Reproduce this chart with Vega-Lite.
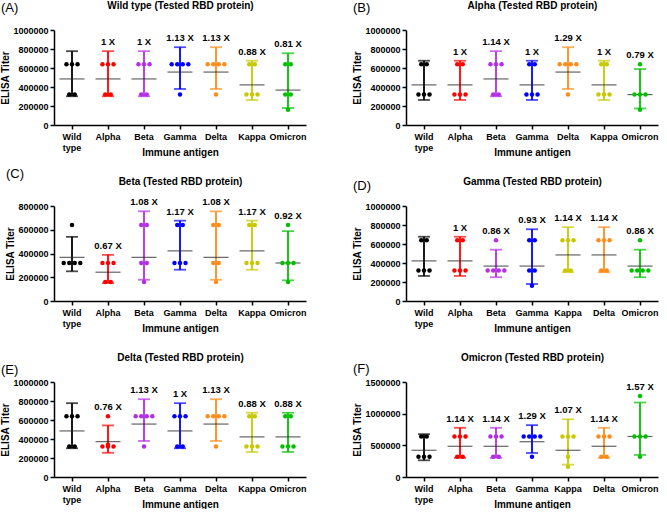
{
"$schema":"https://vega.github.io/schema/vega-lite/v6.json",
"padding":{"left":0,"top":0,"right":0,"bottom":0},
"background":"white",
"datasets":{
"pts":[
{"p":"A","g":"Wild type","v":[640000,640000,640000,320000,320000]},
{"p":"A","g":"Alpha","v":[640000,640000,640000,320000,320000]},
{"p":"A","g":"Beta","v":[640000,640000,640000,320000,320000]},
{"p":"A","g":"Gamma","v":[640000,640000,640000,640000,320000]},
{"p":"A","g":"Delta","v":[640000,640000,640000,640000,320000]},
{"p":"A","g":"Kappa","v":[640000,640000,320000,320000,320000]},
{"p":"A","g":"Omicron","v":[640000,640000,320000,320000,160000]},
{"p":"B","g":"Wild type","v":[640000,640000,320000,320000,320000]},
{"p":"B","g":"Alpha","v":[640000,640000,320000,320000,320000]},
{"p":"B","g":"Beta","v":[640000,640000,640000,320000,320000]},
{"p":"B","g":"Gamma","v":[640000,640000,320000,320000,320000]},
{"p":"B","g":"Delta","v":[640000,640000,640000,640000,320000]},
{"p":"B","g":"Kappa","v":[640000,640000,320000,320000,320000]},
{"p":"B","g":"Omicron","v":[640000,320000,320000,320000,160000]},
{"p":"C","g":"Wild type","v":[640000,320000,320000,320000,320000]},
{"p":"C","g":"Alpha","v":[320000,320000,320000,160000,160000]},
{"p":"C","g":"Beta","v":[640000,640000,320000,320000,160000]},
{"p":"C","g":"Gamma","v":[640000,640000,320000,320000,320000]},
{"p":"C","g":"Delta","v":[640000,640000,320000,320000,160000]},
{"p":"C","g":"Kappa","v":[640000,640000,320000,320000,320000]},
{"p":"C","g":"Omicron","v":[640000,320000,320000,320000,160000]},
{"p":"D","g":"Wild type","v":[640000,640000,320000,320000,320000]},
{"p":"D","g":"Alpha","v":[640000,640000,320000,320000,320000]},
{"p":"D","g":"Beta","v":[640000,320000,320000,320000,320000]},
{"p":"D","g":"Gamma","v":[640000,640000,320000,320000,160000]},
{"p":"D","g":"Kappa","v":[640000,640000,640000,320000,320000]},
{"p":"D","g":"Delta","v":[640000,640000,640000,320000,320000]},
{"p":"D","g":"Omicron","v":[640000,320000,320000,320000,320000]},
{"p":"E","g":"Wild type","v":[640000,640000,640000,320000,320000]},
{"p":"E","g":"Alpha","v":[640000,320000,320000,320000,340000]},
{"p":"E","g":"Beta","v":[640000,640000,640000,640000,320000]},
{"p":"E","g":"Gamma","v":[640000,640000,640000,320000,320000]},
{"p":"E","g":"Delta","v":[640000,640000,640000,640000,320000]},
{"p":"E","g":"Kappa","v":[640000,640000,320000,320000,320000]},
{"p":"E","g":"Omicron","v":[640000,640000,320000,320000,320000]},
{"p":"F","g":"Wild type","v":[640000,640000,320000,320000,320000]},
{"p":"F","g":"Alpha","v":[640000,640000,640000,320000,320000]},
{"p":"F","g":"Beta","v":[640000,640000,640000,320000,320000]},
{"p":"F","g":"Gamma","v":[640000,640000,640000,640000,320000]},
{"p":"F","g":"Kappa","v":[640000,640000,640000,320000,160000]},
{"p":"F","g":"Delta","v":[640000,640000,640000,320000,320000]},
{"p":"F","g":"Omicron","v":[1280000,640000,640000,640000,320000]}
],
"sum":[
{"p":"A","g":"Wild type","gm":485000,"lo":302700,"hi":777100,"mx":640000,"lab":""},
{"p":"A","g":"Alpha","gm":485000,"lo":302700,"hi":777100,"mx":640000,"lab":"1 X"},
{"p":"A","g":"Beta","gm":485000,"lo":302700,"hi":777100,"mx":640000,"lab":"1 X"},
{"p":"A","g":"Gamma","gm":557200,"lo":379200,"hi":818800,"mx":640000,"lab":"1.13 X"},
{"p":"A","g":"Delta","gm":557200,"lo":379200,"hi":818800,"mx":640000,"lab":"1.13 X"},
{"p":"A","g":"Kappa","gm":422200,"lo":263500,"hi":676500,"mx":640000,"lab":"0.88 X"},
{"p":"A","g":"Omicron","gm":367600,"lo":178900,"hi":755300,"mx":640000,"lab":"0.81 X"},
{"p":"B","g":"Wild type","gm":422200,"lo":263500,"hi":676500,"mx":640000,"lab":""},
{"p":"B","g":"Alpha","gm":422200,"lo":263500,"hi":676500,"mx":640000,"lab":"1 X"},
{"p":"B","g":"Beta","gm":485000,"lo":302700,"hi":777100,"mx":640000,"lab":"1.14 X"},
{"p":"B","g":"Gamma","gm":422200,"lo":263500,"hi":676500,"mx":640000,"lab":"1 X"},
{"p":"B","g":"Delta","gm":557200,"lo":379200,"hi":818800,"mx":640000,"lab":"1.29 X"},
{"p":"B","g":"Kappa","gm":422200,"lo":263500,"hi":676500,"mx":640000,"lab":"1 X"},
{"p":"B","g":"Omicron","gm":320000,"lo":174100,"hi":588200,"mx":640000,"lab":"0.79 X"},
{"p":"C","g":"Wild type","gm":367600,"lo":250100,"hi":540200,"mx":640000,"lab":""},
{"p":"C","g":"Alpha","gm":242500,"lo":151400,"hi":388600,"mx":320000,"lab":"0.67 X"},
{"p":"C","g":"Beta","gm":367600,"lo":178900,"hi":755300,"mx":640000,"lab":"1.08 X"},
{"p":"C","g":"Gamma","gm":422200,"lo":263500,"hi":676500,"mx":640000,"lab":"1.17 X"},
{"p":"C","g":"Delta","gm":367600,"lo":178900,"hi":755300,"mx":640000,"lab":"1.08 X"},
{"p":"C","g":"Kappa","gm":422200,"lo":263500,"hi":676500,"mx":640000,"lab":"1.17 X"},
{"p":"C","g":"Omicron","gm":320000,"lo":174100,"hi":588200,"mx":640000,"lab":"0.92 X"},
{"p":"D","g":"Wild type","gm":422200,"lo":263500,"hi":676500,"mx":640000,"lab":""},
{"p":"D","g":"Alpha","gm":422200,"lo":263500,"hi":676500,"mx":640000,"lab":"1 X"},
{"p":"D","g":"Beta","gm":367600,"lo":250100,"hi":540200,"mx":640000,"lab":"0.86 X"},
{"p":"D","g":"Gamma","gm":367600,"lo":178900,"hi":755300,"mx":640000,"lab":"0.93 X"},
{"p":"D","g":"Kappa","gm":485000,"lo":302700,"hi":777100,"mx":640000,"lab":"1.14 X"},
{"p":"D","g":"Delta","gm":485000,"lo":302700,"hi":777100,"mx":640000,"lab":"1.14 X"},
{"p":"D","g":"Omicron","gm":367600,"lo":250100,"hi":540200,"mx":640000,"lab":"0.86 X"},
{"p":"E","g":"Wild type","gm":485000,"lo":302700,"hi":777100,"mx":640000,"lab":""},
{"p":"E","g":"Alpha","gm":372100,"lo":255000,"hi":543000,"mx":640000,"lab":"0.76 X"},
{"p":"E","g":"Beta","gm":557200,"lo":379200,"hi":818800,"mx":640000,"lab":"1.13 X"},
{"p":"E","g":"Gamma","gm":485000,"lo":302700,"hi":777100,"mx":640000,"lab":"1 X"},
{"p":"E","g":"Delta","gm":557200,"lo":379200,"hi":818800,"mx":640000,"lab":"1.13 X"},
{"p":"E","g":"Kappa","gm":422200,"lo":263500,"hi":676500,"mx":640000,"lab":"0.88 X"},
{"p":"E","g":"Omicron","gm":422200,"lo":263500,"hi":676500,"mx":640000,"lab":"0.88 X"},
{"p":"F","g":"Wild type","gm":422200,"lo":263500,"hi":676500,"mx":640000,"lab":""},
{"p":"F","g":"Alpha","gm":485000,"lo":302700,"hi":777100,"mx":640000,"lab":"1.14 X"},
{"p":"F","g":"Beta","gm":485000,"lo":302700,"hi":777100,"mx":640000,"lab":"1.14 X"},
{"p":"F","g":"Gamma","gm":557200,"lo":379200,"hi":818800,"mx":640000,"lab":"1.29 X"},
{"p":"F","g":"Kappa","gm":422200,"lo":195600,"hi":911600,"mx":640000,"lab":"1.07 X"},
{"p":"F","g":"Delta","gm":485000,"lo":302700,"hi":777100,"mx":640000,"lab":"1.14 X"},
{"p":"F","g":"Omicron","gm":640000,"lo":348200,"hi":1176300,"mx":1280000,"lab":"1.57 X"}
]
},
"columns":2,
"spacing":{"row":81,"column":100},
"bounds":"flush",
"concat":[
{"width":252,"height":95,"title":{"text":"(A)","dy":19},
"encoding":{"x":{"field":"g","type":"nominal","scale":{"domain":["Wild type","Alpha","Beta","Gamma","Delta","Kappa","Omicron"],"paddingInner":0,"paddingOuter":0},"axis":null},
"color":{"field":"g","type":"nominal","scale":{"domain":["Wild type","Alpha","Beta","Gamma","Delta","Kappa","Omicron"],"range":["#000000","#ff0000","#b32ee6","#0000ff","#ff8c1a","#c8c800","#00c000"]},"legend":null}},
"layer":[
{"data":{"name":"sum"},"transform":[{"filter":"datum.p==='A'"}],"mark":{"type":"rule","strokeWidth":1.8},
"encoding":{"x":{"field":"g","type":"nominal","title":"Immune antigen","axis":{"orient":"bottom","labelExpr":"datum.value==='Wild type'?['Wild','type']:datum.value","labelLineHeight":11,"titlePadding":-5}},
"y":{"field":"lo","type":"quantitative","title":"ELISA Titer","scale":{"domain":[0,1000000]},"axis":{"values":[0,200000,400000,600000,800000,1000000],"format":"d","labelOverlap":false}},"y2":{"field":"hi"}}},
{"data":{"name":"sum"},"transform":[{"filter":"datum.p==='A'"}],"mark":{"type":"tick","size":12,"thickness":1.8},"encoding":{"y":{"field":"lo","type":"quantitative","title":"ELISA Titer","scale":{"domain":[0,1000000]},"axis":{"values":[0,200000,400000,600000,800000,1000000],"format":"d","labelOverlap":false}}}},
{"data":{"name":"sum"},"transform":[{"filter":"datum.p==='A'"}],"mark":{"type":"tick","size":12,"thickness":1.8},"encoding":{"y":{"field":"hi","type":"quantitative","title":"ELISA Titer","scale":{"domain":[0,1000000]},"axis":{"values":[0,200000,400000,600000,800000,1000000],"format":"d","labelOverlap":false}}}},
{"data":{"name":"sum"},"transform":[{"filter":"datum.p==='A'"}],"mark":{"type":"tick","size":25,"thickness":1.2},"encoding":{"y":{"field":"gm","type":"quantitative","title":"ELISA Titer","scale":{"domain":[0,1000000]},"axis":{"values":[0,200000,400000,600000,800000,1000000],"format":"d","labelOverlap":false}},"color":{"value":"#222222"}}},
{"data":{"name":"pts"},"transform":[{"filter":"datum.p==='A'"},{"flatten":["v"]},{"window":[{"op":"row_number","as":"r"},{"op":"count","as":"n"}],"groupby":["g","v"],"frame":[null,null]},{"calculate":"datum.r-(datum.n+1)/2","as":"off"}],
"mark":{"type":"circle","size":20,"opacity":1},"encoding":{"y":{"field":"v","type":"quantitative","title":"ELISA Titer","scale":{"domain":[0,1000000]},"axis":{"values":[0,200000,400000,600000,800000,1000000],"format":"d","labelOverlap":false}},"xOffset":{"field":"off","type":"quantitative","scale":{"domain":[-3.25,3.25]}}}},
{"data":{"name":"sum"},"transform":[{"filter":"datum.p==='A'"},{"calculate":"max(datum.hi,datum.mx)","as":"ly"}],"mark":{"type":"text","dy":-9,"fontWeight":"bold","fontSize":9.5},
"encoding":{"x":{"field":"g","type":"nominal","axis":{"orient":"top","labels":false,"ticks":false,"domain":false,"title":"Wild type (Tested RBD protein)","titlePadding":20}},"y":{"field":"ly","type":"quantitative","title":"ELISA Titer","scale":{"domain":[0,1000000]},"axis":{"values":[0,200000,400000,600000,800000,1000000],"format":"d","labelOverlap":false}},"text":{"field":"lab"},"color":{"value":"#000000"}}}
],
"resolve":{"axis":{"x":"independent"}}},

{"width":252,"height":95,"title":{"text":"(B)","dy":19},
"encoding":{"x":{"field":"g","type":"nominal","scale":{"domain":["Wild type","Alpha","Beta","Gamma","Delta","Kappa","Omicron"],"paddingInner":0,"paddingOuter":0},"axis":null},
"color":{"field":"g","type":"nominal","scale":{"domain":["Wild type","Alpha","Beta","Gamma","Delta","Kappa","Omicron"],"range":["#000000","#ff0000","#b32ee6","#0000ff","#ff8c1a","#c8c800","#00c070"]},"legend":null}},
"layer":[
{"data":{"name":"sum"},"transform":[{"filter":"datum.p==='B'"}],"mark":{"type":"rule","strokeWidth":1.8},
"encoding":{"x":{"field":"g","type":"nominal","title":"Immune antigen","axis":{"orient":"bottom","labelExpr":"datum.value==='Wild type'?['Wild','type']:datum.value","labelLineHeight":11,"titlePadding":-5}},
"y":{"field":"lo","type":"quantitative","title":"ELISA Titer","scale":{"domain":[0,1000000]},"axis":{"values":[0,200000,400000,600000,800000,1000000],"format":"d","labelOverlap":false}},"y2":{"field":"hi"}}},
{"data":{"name":"sum"},"transform":[{"filter":"datum.p==='B'"}],"mark":{"type":"tick","size":12,"thickness":1.8},"encoding":{"y":{"field":"lo","type":"quantitative","title":"ELISA Titer","scale":{"domain":[0,1000000]},"axis":{"values":[0,200000,400000,600000,800000,1000000],"format":"d","labelOverlap":false}}}},
{"data":{"name":"sum"},"transform":[{"filter":"datum.p==='B'"}],"mark":{"type":"tick","size":12,"thickness":1.8},"encoding":{"y":{"field":"hi","type":"quantitative","title":"ELISA Titer","scale":{"domain":[0,1000000]},"axis":{"values":[0,200000,400000,600000,800000,1000000],"format":"d","labelOverlap":false}}}},
{"data":{"name":"sum"},"transform":[{"filter":"datum.p==='B'"}],"mark":{"type":"tick","size":25,"thickness":1.2},"encoding":{"y":{"field":"gm","type":"quantitative","title":"ELISA Titer","scale":{"domain":[0,1000000]},"axis":{"values":[0,200000,400000,600000,800000,1000000],"format":"d","labelOverlap":false}},"color":{"value":"#222222"}}},
{"data":{"name":"pts"},"transform":[{"filter":"datum.p==='B'"},{"flatten":["v"]},{"window":[{"op":"row_number","as":"r"},{"op":"count","as":"n"}],"groupby":["g","v"],"frame":[null,null]},{"calculate":"datum.r-(datum.n+1)/2","as":"off"}],
"mark":{"type":"circle","size":20,"opacity":1},"encoding":{"y":{"field":"v","type":"quantitative","title":"ELISA Titer","scale":{"domain":[0,1000000]},"axis":{"values":[0,200000,400000,600000,800000,1000000],"format":"d","labelOverlap":false}},"xOffset":{"field":"off","type":"quantitative","scale":{"domain":[-3.25,3.25]}}}},
{"data":{"name":"sum"},"transform":[{"filter":"datum.p==='B'"},{"calculate":"max(datum.hi,datum.mx)","as":"ly"}],"mark":{"type":"text","dy":-9,"fontWeight":"bold","fontSize":9.5},
"encoding":{"x":{"field":"g","type":"nominal","axis":{"orient":"top","labels":false,"ticks":false,"domain":false,"title":"Alpha (Tested RBD protein)","titlePadding":20}},"y":{"field":"ly","type":"quantitative","title":"ELISA Titer","scale":{"domain":[0,1000000]},"axis":{"values":[0,200000,400000,600000,800000,1000000],"format":"d","labelOverlap":false}},"text":{"field":"lab"},"color":{"value":"#000000"}}}
],
"resolve":{"axis":{"x":"independent"}}},

{"width":252,"height":95,"title":{"text":"(C)","dy":9},
"encoding":{"x":{"field":"g","type":"nominal","scale":{"domain":["Wild type","Alpha","Beta","Gamma","Delta","Kappa","Omicron"],"paddingInner":0,"paddingOuter":0},"axis":null},
"color":{"field":"g","type":"nominal","scale":{"domain":["Wild type","Alpha","Beta","Gamma","Delta","Kappa","Omicron"],"range":["#000000","#ff0000","#b32ee6","#0000ff","#ff8c1a","#c8c800","#00c000"]},"legend":null}},
"layer":[
{"data":{"name":"sum"},"transform":[{"filter":"datum.p==='C'"}],"mark":{"type":"rule","strokeWidth":1.8},
"encoding":{"x":{"field":"g","type":"nominal","title":"Immune antigen","axis":{"orient":"bottom","labelExpr":"datum.value==='Wild type'?['Wild','type']:datum.value","labelLineHeight":11,"titlePadding":-5}},
"y":{"field":"lo","type":"quantitative","title":"ELISA Titer","scale":{"domain":[0,800000]},"axis":{"values":[0,200000,400000,600000,800000],"format":"d","labelOverlap":false}},"y2":{"field":"hi"}}},
{"data":{"name":"sum"},"transform":[{"filter":"datum.p==='C'"}],"mark":{"type":"tick","size":12,"thickness":1.8},"encoding":{"y":{"field":"lo","type":"quantitative","title":"ELISA Titer","scale":{"domain":[0,800000]},"axis":{"values":[0,200000,400000,600000,800000],"format":"d","labelOverlap":false}}}},
{"data":{"name":"sum"},"transform":[{"filter":"datum.p==='C'"}],"mark":{"type":"tick","size":12,"thickness":1.8},"encoding":{"y":{"field":"hi","type":"quantitative","title":"ELISA Titer","scale":{"domain":[0,800000]},"axis":{"values":[0,200000,400000,600000,800000],"format":"d","labelOverlap":false}}}},
{"data":{"name":"sum"},"transform":[{"filter":"datum.p==='C'"}],"mark":{"type":"tick","size":25,"thickness":1.2},"encoding":{"y":{"field":"gm","type":"quantitative","title":"ELISA Titer","scale":{"domain":[0,800000]},"axis":{"values":[0,200000,400000,600000,800000],"format":"d","labelOverlap":false}},"color":{"value":"#222222"}}},
{"data":{"name":"pts"},"transform":[{"filter":"datum.p==='C'"},{"flatten":["v"]},{"window":[{"op":"row_number","as":"r"},{"op":"count","as":"n"}],"groupby":["g","v"],"frame":[null,null]},{"calculate":"datum.r-(datum.n+1)/2","as":"off"}],
"mark":{"type":"circle","size":20,"opacity":1},"encoding":{"y":{"field":"v","type":"quantitative","title":"ELISA Titer","scale":{"domain":[0,800000]},"axis":{"values":[0,200000,400000,600000,800000],"format":"d","labelOverlap":false}},"xOffset":{"field":"off","type":"quantitative","scale":{"domain":[-3.25,3.25]}}}},
{"data":{"name":"sum"},"transform":[{"filter":"datum.p==='C'"},{"calculate":"max(datum.hi,datum.mx)","as":"ly"}],"mark":{"type":"text","dy":-9,"fontWeight":"bold","fontSize":9.5},
"encoding":{"x":{"field":"g","type":"nominal","axis":{"orient":"top","labels":false,"ticks":false,"domain":false,"title":"Beta (Tested RBD protein)","titlePadding":20}},"y":{"field":"ly","type":"quantitative","title":"ELISA Titer","scale":{"domain":[0,800000]},"axis":{"values":[0,200000,400000,600000,800000],"format":"d","labelOverlap":false}},"text":{"field":"lab"},"color":{"value":"#000000"}}}
],
"resolve":{"axis":{"x":"independent"}}},

{"width":252,"height":95,"title":{"text":"(D)","dy":21},
"encoding":{"x":{"field":"g","type":"nominal","scale":{"domain":["Wild type","Alpha","Beta","Gamma","Kappa","Delta","Omicron"],"paddingInner":0,"paddingOuter":0},"axis":null},
"color":{"field":"g","type":"nominal","scale":{"domain":["Wild type","Alpha","Beta","Gamma","Kappa","Delta","Omicron"],"range":["#000000","#ff0000","#b32ee6","#0000ff","#ff8c1a","#c8c800","#00c000"]},"legend":null}},
"layer":[
{"data":{"name":"sum"},"transform":[{"filter":"datum.p==='D'"}],"mark":{"type":"rule","strokeWidth":1.8},
"encoding":{"x":{"field":"g","type":"nominal","title":"Immune antigen","axis":{"orient":"bottom","labelExpr":"datum.value==='Wild type'?['Wild','type']:datum.value","labelLineHeight":11,"titlePadding":-5}},
"y":{"field":"lo","type":"quantitative","title":"ELISA Titer","scale":{"domain":[0,1000000]},"axis":{"values":[0,200000,400000,600000,800000,1000000],"format":"d","labelOverlap":false}},"y2":{"field":"hi"}}},
{"data":{"name":"sum"},"transform":[{"filter":"datum.p==='D'"}],"mark":{"type":"tick","size":12,"thickness":1.8},"encoding":{"y":{"field":"lo","type":"quantitative","title":"ELISA Titer","scale":{"domain":[0,1000000]},"axis":{"values":[0,200000,400000,600000,800000,1000000],"format":"d","labelOverlap":false}}}},
{"data":{"name":"sum"},"transform":[{"filter":"datum.p==='D'"}],"mark":{"type":"tick","size":12,"thickness":1.8},"encoding":{"y":{"field":"hi","type":"quantitative","title":"ELISA Titer","scale":{"domain":[0,1000000]},"axis":{"values":[0,200000,400000,600000,800000,1000000],"format":"d","labelOverlap":false}}}},
{"data":{"name":"sum"},"transform":[{"filter":"datum.p==='D'"}],"mark":{"type":"tick","size":25,"thickness":1.2},"encoding":{"y":{"field":"gm","type":"quantitative","title":"ELISA Titer","scale":{"domain":[0,1000000]},"axis":{"values":[0,200000,400000,600000,800000,1000000],"format":"d","labelOverlap":false}},"color":{"value":"#222222"}}},
{"data":{"name":"pts"},"transform":[{"filter":"datum.p==='D'"},{"flatten":["v"]},{"window":[{"op":"row_number","as":"r"},{"op":"count","as":"n"}],"groupby":["g","v"],"frame":[null,null]},{"calculate":"datum.r-(datum.n+1)/2","as":"off"}],
"mark":{"type":"circle","size":20,"opacity":1},"encoding":{"y":{"field":"v","type":"quantitative","title":"ELISA Titer","scale":{"domain":[0,1000000]},"axis":{"values":[0,200000,400000,600000,800000,1000000],"format":"d","labelOverlap":false}},"xOffset":{"field":"off","type":"quantitative","scale":{"domain":[-3.25,3.25]}}}},
{"data":{"name":"sum"},"transform":[{"filter":"datum.p==='D'"},{"calculate":"max(datum.hi,datum.mx)","as":"ly"}],"mark":{"type":"text","dy":-9,"fontWeight":"bold","fontSize":9.5},
"encoding":{"x":{"field":"g","type":"nominal","axis":{"orient":"top","labels":false,"ticks":false,"domain":false,"title":"Gamma (Tested RBD protein)","titlePadding":20}},"y":{"field":"ly","type":"quantitative","title":"ELISA Titer","scale":{"domain":[0,1000000]},"axis":{"values":[0,200000,400000,600000,800000,1000000],"format":"d","labelOverlap":false}},"text":{"field":"lab"},"color":{"value":"#000000"}}}
],
"resolve":{"axis":{"x":"independent"}}},

{"width":252,"height":95,"title":{"text":"(E)","dy":29},
"encoding":{"x":{"field":"g","type":"nominal","scale":{"domain":["Wild type","Alpha","Beta","Gamma","Delta","Kappa","Omicron"],"paddingInner":0,"paddingOuter":0},"axis":null},
"color":{"field":"g","type":"nominal","scale":{"domain":["Wild type","Alpha","Beta","Gamma","Delta","Kappa","Omicron"],"range":["#000000","#ff0000","#b32ee6","#0000ff","#ff8c1a","#c8c800","#00c000"]},"legend":null}},
"layer":[
{"data":{"name":"sum"},"transform":[{"filter":"datum.p==='E'"}],"mark":{"type":"rule","strokeWidth":1.8},
"encoding":{"x":{"field":"g","type":"nominal","title":"Immune antigen","axis":{"orient":"bottom","labelExpr":"datum.value==='Wild type'?['Wild','type']:datum.value","labelLineHeight":11,"titlePadding":-5}},
"y":{"field":"lo","type":"quantitative","title":"ELISA Titer","scale":{"domain":[0,1000000]},"axis":{"values":[0,200000,400000,600000,800000,1000000],"format":"d","labelOverlap":false}},"y2":{"field":"hi"}}},
{"data":{"name":"sum"},"transform":[{"filter":"datum.p==='E'"}],"mark":{"type":"tick","size":12,"thickness":1.8},"encoding":{"y":{"field":"lo","type":"quantitative","title":"ELISA Titer","scale":{"domain":[0,1000000]},"axis":{"values":[0,200000,400000,600000,800000,1000000],"format":"d","labelOverlap":false}}}},
{"data":{"name":"sum"},"transform":[{"filter":"datum.p==='E'"}],"mark":{"type":"tick","size":12,"thickness":1.8},"encoding":{"y":{"field":"hi","type":"quantitative","title":"ELISA Titer","scale":{"domain":[0,1000000]},"axis":{"values":[0,200000,400000,600000,800000,1000000],"format":"d","labelOverlap":false}}}},
{"data":{"name":"sum"},"transform":[{"filter":"datum.p==='E'"}],"mark":{"type":"tick","size":25,"thickness":1.2},"encoding":{"y":{"field":"gm","type":"quantitative","title":"ELISA Titer","scale":{"domain":[0,1000000]},"axis":{"values":[0,200000,400000,600000,800000,1000000],"format":"d","labelOverlap":false}},"color":{"value":"#222222"}}},
{"data":{"name":"pts"},"transform":[{"filter":"datum.p==='E'"},{"flatten":["v"]},{"window":[{"op":"row_number","as":"r"},{"op":"count","as":"n"}],"groupby":["g","v"],"frame":[null,null]},{"calculate":"datum.r-(datum.n+1)/2","as":"off"}],
"mark":{"type":"circle","size":20,"opacity":1},"encoding":{"y":{"field":"v","type":"quantitative","title":"ELISA Titer","scale":{"domain":[0,1000000]},"axis":{"values":[0,200000,400000,600000,800000,1000000],"format":"d","labelOverlap":false}},"xOffset":{"field":"off","type":"quantitative","scale":{"domain":[-3.25,3.25]}}}},
{"data":{"name":"sum"},"transform":[{"filter":"datum.p==='E'"},{"calculate":"max(datum.hi,datum.mx)","as":"ly"}],"mark":{"type":"text","dy":-9,"fontWeight":"bold","fontSize":9.5},
"encoding":{"x":{"field":"g","type":"nominal","axis":{"orient":"top","labels":false,"ticks":false,"domain":false,"title":"Delta (Tested RBD protein)","titlePadding":20}},"y":{"field":"ly","type":"quantitative","title":"ELISA Titer","scale":{"domain":[0,1000000]},"axis":{"values":[0,200000,400000,600000,800000,1000000],"format":"d","labelOverlap":false}},"text":{"field":"lab"},"color":{"value":"#000000"}}}
],
"resolve":{"axis":{"x":"independent"}}},

{"width":252,"height":95,"title":{"text":"(F)","dy":28},
"encoding":{"x":{"field":"g","type":"nominal","scale":{"domain":["Wild type","Alpha","Beta","Gamma","Kappa","Delta","Omicron"],"paddingInner":0,"paddingOuter":0},"axis":null},
"color":{"field":"g","type":"nominal","scale":{"domain":["Wild type","Alpha","Beta","Gamma","Kappa","Delta","Omicron"],"range":["#000000","#ff0000","#b32ee6","#0000ff","#ff8c1a","#c8c800","#00c000"]},"legend":null}},
"layer":[
{"data":{"name":"sum"},"transform":[{"filter":"datum.p==='F'"}],"mark":{"type":"rule","strokeWidth":1.8},
"encoding":{"x":{"field":"g","type":"nominal","title":"Immune antigen","axis":{"orient":"bottom","labelExpr":"datum.value==='Wild type'?['Wild','type']:datum.value","labelLineHeight":11,"titlePadding":-5}},
"y":{"field":"lo","type":"quantitative","title":"ELISA Titer","scale":{"domain":[0,1500000]},"axis":{"values":[0,500000,1000000,1500000],"format":"d","labelOverlap":false}},"y2":{"field":"hi"}}},
{"data":{"name":"sum"},"transform":[{"filter":"datum.p==='F'"}],"mark":{"type":"tick","size":12,"thickness":1.8},"encoding":{"y":{"field":"lo","type":"quantitative","title":"ELISA Titer","scale":{"domain":[0,1500000]},"axis":{"values":[0,500000,1000000,1500000],"format":"d","labelOverlap":false}}}},
{"data":{"name":"sum"},"transform":[{"filter":"datum.p==='F'"}],"mark":{"type":"tick","size":12,"thickness":1.8},"encoding":{"y":{"field":"hi","type":"quantitative","title":"ELISA Titer","scale":{"domain":[0,1500000]},"axis":{"values":[0,500000,1000000,1500000],"format":"d","labelOverlap":false}}}},
{"data":{"name":"sum"},"transform":[{"filter":"datum.p==='F'"}],"mark":{"type":"tick","size":25,"thickness":1.2},"encoding":{"y":{"field":"gm","type":"quantitative","title":"ELISA Titer","scale":{"domain":[0,1500000]},"axis":{"values":[0,500000,1000000,1500000],"format":"d","labelOverlap":false}},"color":{"value":"#222222"}}},
{"data":{"name":"pts"},"transform":[{"filter":"datum.p==='F'"},{"flatten":["v"]},{"window":[{"op":"row_number","as":"r"},{"op":"count","as":"n"}],"groupby":["g","v"],"frame":[null,null]},{"calculate":"datum.r-(datum.n+1)/2","as":"off"}],
"mark":{"type":"circle","size":20,"opacity":1},"encoding":{"y":{"field":"v","type":"quantitative","title":"ELISA Titer","scale":{"domain":[0,1500000]},"axis":{"values":[0,500000,1000000,1500000],"format":"d","labelOverlap":false}},"xOffset":{"field":"off","type":"quantitative","scale":{"domain":[-3.25,3.25]}}}},
{"data":{"name":"sum"},"transform":[{"filter":"datum.p==='F'"},{"calculate":"max(datum.hi,datum.mx)","as":"ly"}],"mark":{"type":"text","dy":-9,"fontWeight":"bold","fontSize":9.5},
"encoding":{"x":{"field":"g","type":"nominal","axis":{"orient":"top","labels":false,"ticks":false,"domain":false,"title":"Omicron (Tested RBD protein)","titlePadding":20}},"y":{"field":"ly","type":"quantitative","title":"ELISA Titer","scale":{"domain":[0,1500000]},"axis":{"values":[0,500000,1000000,1500000],"format":"d","labelOverlap":false}},"text":{"field":"lab"},"color":{"value":"#000000"}}}
],
"resolve":{"axis":{"x":"independent"}}}
],
"config":{
"font":"Liberation Sans",
"view":{"stroke":null},
"axis":{"labelFont":"Liberation Sans","labelFontWeight":"bold","labelFontSize":9,"labelColor":"#000000","titleFont":"Liberation Sans","titleFontWeight":"bold","titleFontSize":10,"titleColor":"#000000","domainColor":"#000000","domainWidth":1.5,"tickColor":"#000000","tickWidth":1.5,"tickSize":4,"grid":false,"labelFlush":false,"labelOverlap":false},
"axisY":{"labelPadding":2,"titlePadding":2},
"axisX":{"labelAngle":0,"labelPadding":3},
"text":{"font":"Liberation Sans"},
"title":{"font":"Liberation Sans","fontSize":13,"fontWeight":"normal","anchor":"start","frame":"bounds","offset":0,"color":"#000000"}
}
}
